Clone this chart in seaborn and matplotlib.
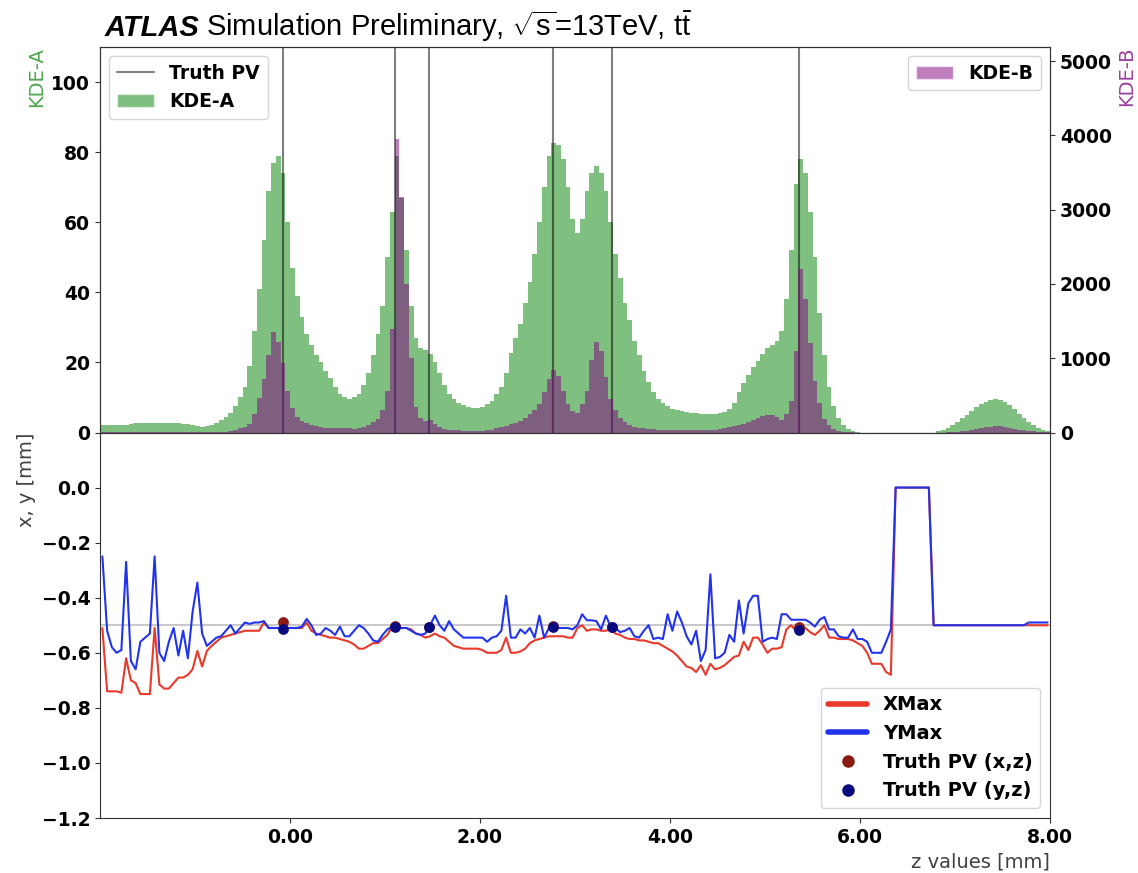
import numpy as np
import seaborn as sns
import matplotlib.pyplot as plt
from matplotlib.lines import Line2D
from matplotlib.patches import Patch

# z binning: 200 bins of 0.05 mm from -2 to 8
z_lo, z_hi, z_step = -2.0, 8.0, 0.05
z_mid = np.arange(z_lo + z_step / 2, z_hi, z_step)

# KDE-A (left axis)
kde_a = [
    2.0, 2.0, 2.0, 2.0, 2.0, 2.2, 2.5, 2.7, 2.7, 2.8,
    2.8, 2.8, 2.7, 2.7, 2.7, 2.6, 2.6, 2.5, 2.3, 2.0,
    1.8, 1.7, 1.8, 2.2, 2.8, 3.5, 4.4, 5.5, 7.5, 10.0,
    13.0, 19.0, 29.0, 41.0, 55.0, 69.0, 77.0, 79.0, 74.0, 60.0,
    47.0, 39.0, 33.0, 28.0, 25.0, 22.0, 20.0, 17.5, 15.5, 13.0,
    11.0, 10.0, 9.7, 10.0, 11.0, 13.5, 17.0, 22.0, 28.0, 36.0,
    50.0, 63.0, 79.0, 67.0, 52.0, 36.0, 27.0, 24.0, 23.5, 22.5,
    20.0, 17.0, 13.5, 11.0, 9.5, 8.5, 7.8, 7.3, 7.0, 7.0,
    7.3, 8.0, 9.0, 11.0, 13.0, 17.0, 22.6, 27.0, 31.0, 37.0,
    43.0, 51.0, 60.0, 70.0, 79.0, 82.5, 82.0, 78.0, 70.0, 61.0,
    57.0, 61.0, 69.0, 74.0, 76.0, 74.0, 69.0, 60.0, 51.0, 44.0,
    37.0, 32.0, 26.0, 22.0, 17.5, 14.5, 11.5, 9.5, 8.3, 7.5,
    6.8, 6.4, 6.1, 5.8, 5.6, 5.5, 5.4, 5.4, 5.4, 5.4,
    5.5, 5.9, 6.8, 8.5, 11.5, 14.0, 16.5, 18.6, 20.5, 22.5,
    24.0, 25.0, 26.0, 29.0, 38.0, 52.0, 71.0, 78.0, 74.0, 63.0,
    50.0, 34.0, 22.0, 13.0, 7.5, 4.0, 2.2, 1.1, 0.5, 0.2,
    0.0, 0.0, 0.0, 0.0, 0.0, 0.0, 0.0, 0.0, 0.0, 0.0,
    0.0, 0.0, 0.0, 0.0, 0.0, 0.0, 0.3, 0.7, 1.3, 2.1,
    3.0, 4.0, 5.0, 6.2, 7.2, 8.0, 8.8, 9.4, 9.7, 9.4,
    8.8, 7.8, 6.6, 5.4, 4.2, 3.1, 2.2, 1.4, 0.8, 0.3,
]

# KDE-B (right axis)
kde_b = [
    8, 8, 8, 8, 8, 8, 8, 8, 8, 8,
    8, 8, 8, 8, 8, 8, 8, 8, 8, 8,
    8, 8, 8, 8, 9, 10, 12, 20, 35, 55,
    70, 120, 250, 470, 720, 1050, 1350, 1220, 930, 560,
    330, 210, 160, 125, 100, 85, 70, 60, 55, 55,
    55, 55, 55, 50, 55, 70, 100, 140, 180, 300,
    560, 1400, 3950, 3170, 2000, 1000, 350, 190, 160, 165,
    110, 70, 50, 40, 32, 28, 25, 25, 25, 25,
    25, 30, 40, 55, 70, 90, 110, 130, 160, 200,
    250, 300, 380, 550, 720, 840, 760, 560, 380, 290,
    260, 380, 560, 970, 1220, 1100, 750, 450, 300, 190,
    140, 100, 80, 65, 55, 48, 42, 37, 33, 30,
    28, 27, 27, 27, 27, 28, 30, 32, 35, 40,
    48, 58, 70, 82, 95, 115, 140, 170, 200, 220,
    230, 230, 210, 170, 250, 420, 1100, 2200, 1800, 1200,
    700, 400, 180, 100, 50, 25, 12, 6, 3, 0,
    0, 0, 0, 0, 0, 0, 0, 0, 0, 0,
    0, 0, 0, 0, 0, 0, 0, 0, 3, 6,
    10, 16, 24, 34, 46, 58, 70, 80, 85, 82,
    75, 64, 52, 40, 30, 21, 14, 8, 4, 2,
]

# XMax / YMax per z bin
x_max = [
    -0.51, -0.74, -0.74, -0.74, -0.745, -0.62, -0.70, -0.71, -0.75, -0.75,
    -0.75, -0.51, -0.715, -0.73, -0.73, -0.71, -0.69, -0.69, -0.68, -0.66,
    -0.593, -0.65, -0.593, -0.575, -0.56, -0.545, -0.54, -0.535, -0.53, -0.525,
    -0.52, -0.52, -0.52, -0.52, -0.49, -0.51, -0.51, -0.51, -0.51, -0.51,
    -0.51, -0.51, -0.51, -0.49, -0.52, -0.53, -0.535, -0.54, -0.545, -0.545,
    -0.55, -0.555, -0.56, -0.57, -0.585, -0.585, -0.575, -0.565, -0.565, -0.55,
    -0.535, -0.505, -0.505, -0.51, -0.51, -0.515, -0.53, -0.535, -0.545, -0.54,
    -0.53, -0.54, -0.545, -0.56, -0.575, -0.58, -0.585, -0.585, -0.585, -0.585,
    -0.59, -0.60, -0.60, -0.60, -0.59, -0.545, -0.60, -0.60, -0.595, -0.585,
    -0.565, -0.555, -0.55, -0.545, -0.54, -0.54, -0.54, -0.54, -0.545, -0.545,
    -0.51, -0.50, -0.52, -0.515, -0.515, -0.52, -0.52, -0.515, -0.53, -0.535,
    -0.545, -0.55, -0.55, -0.555, -0.555, -0.56, -0.565, -0.565, -0.575, -0.585,
    -0.595, -0.61, -0.63, -0.65, -0.655, -0.67, -0.645, -0.68, -0.64, -0.66,
    -0.655, -0.645, -0.63, -0.615, -0.61, -0.56, -0.59, -0.545, -0.545, -0.57,
    -0.60, -0.585, -0.585, -0.58, -0.515, -0.50, -0.52, -0.505, -0.51, -0.525,
    -0.535, -0.52, -0.50, -0.545, -0.545, -0.55, -0.55, -0.55, -0.555, -0.565,
    -0.575, -0.60, -0.64, -0.64, -0.64, -0.67, -0.68, 0.0, 0.0, 0.0,
    0.0, 0.0, 0.0, 0.0, 0.0, -0.5, -0.5, -0.5, -0.5, -0.5,
    -0.5, -0.5, -0.5, -0.5, -0.5, -0.5, -0.5, -0.5, -0.5, -0.5,
    -0.5, -0.5, -0.5, -0.5, -0.5, -0.5, -0.5, -0.5, -0.5, -0.5,
]

y_max = [
    -0.25, -0.52, -0.58, -0.60, -0.59, -0.27, -0.63, -0.66, -0.56, -0.545,
    -0.53, -0.25, -0.60, -0.63, -0.56, -0.51, -0.61, -0.52, -0.62, -0.45,
    -0.345, -0.53, -0.575, -0.56, -0.545, -0.54, -0.52, -0.50, -0.53, -0.51,
    -0.49, -0.495, -0.49, -0.49, -0.485, -0.51, -0.51, -0.51, -0.51, -0.51,
    -0.51, -0.51, -0.505, -0.477, -0.50, -0.535, -0.53, -0.51, -0.52, -0.535,
    -0.505, -0.54, -0.54, -0.52, -0.50, -0.51, -0.53, -0.555, -0.56, -0.535,
    -0.515, -0.505, -0.51, -0.51, -0.51, -0.52, -0.53, -0.535, -0.53, -0.50,
    -0.465, -0.50, -0.52, -0.485, -0.515, -0.53, -0.545, -0.545, -0.545, -0.545,
    -0.545, -0.56, -0.545, -0.54, -0.52, -0.393, -0.545, -0.545, -0.515, -0.53,
    -0.51, -0.545, -0.465, -0.545, -0.51, -0.51, -0.51, -0.51, -0.51, -0.515,
    -0.50, -0.46, -0.482, -0.482, -0.485, -0.515, -0.465, -0.505, -0.51, -0.525,
    -0.52, -0.51, -0.54, -0.545, -0.52, -0.50, -0.55, -0.545, -0.55, -0.46,
    -0.52, -0.45, -0.49, -0.54, -0.57, -0.52, -0.63, -0.59, -0.315, -0.62,
    -0.615, -0.60, -0.535, -0.56, -0.41, -0.53, -0.42, -0.393, -0.393, -0.56,
    -0.55, -0.545, -0.55, -0.46, -0.46, -0.48, -0.48, -0.48, -0.48, -0.49,
    -0.505, -0.48, -0.47, -0.515, -0.515, -0.54, -0.545, -0.545, -0.515, -0.55,
    -0.55, -0.56, -0.60, -0.60, -0.60, -0.56, -0.515, 0.0, 0.0, 0.0,
    0.0, 0.0, 0.0, 0.0, 0.0, -0.5, -0.5, -0.5, -0.5, -0.5,
    -0.5, -0.5, -0.5, -0.5, -0.5, -0.5, -0.5, -0.5, -0.5, -0.5,
    -0.5, -0.5, -0.5, -0.5, -0.5, -0.49, -0.49, -0.49, -0.49, -0.49,
]

# truth primary vertices
pv_z = [-0.07, 1.105, 1.46, 2.77, 3.39, 5.36]
pv_x = [-0.488, -0.503, -0.505, -0.503, -0.505, -0.505]
pv_y = [-0.513, -0.505, -0.508, -0.505, -0.508, -0.516]

x_ticks = [0, 2, 4, 6, 8]
a_ticks = [0, 20, 40, 60, 80, 100]
b_ticks = [0, 1000, 2000, 3000, 4000, 5000]
xy_ticks = [-1.2, -1.0, -0.8, -0.6, -0.4, -0.2, 0.0]

RED = "#e8392b"
BLUE = "#2233ee"

sns.set_style("ticks", {"axes.edgecolor": "0.2", "text.color": "black",
                        "xtick.color": "0.2", "ytick.color": "0.2"})
plt.rcParams["font.family"] = ["DejaVu Sans"]
plt.rcParams["mathtext.fontset"] = "custom"
plt.rcParams["mathtext.rm"] = "Liberation Sans"
plt.rcParams["mathtext.it"] = "Liberation Sans:italic"
plt.rcParams["mathtext.bf"] = "Liberation Sans:bold"

fig = plt.figure(figsize=(11.38, 8.73), dpi=100)
gs = fig.add_gridspec(2, 1, left=100 / 1138, right=1050 / 1138,
                      top=1 - 47 / 873, bottom=1 - 818 / 873, hspace=0)
ax = fig.add_subplot(gs[0])
ax3 = fig.add_subplot(gs[1], sharex=ax)
ax2 = ax.twinx()

# top panel: the two KDEs
sns.histplot(x=z_mid, weights=kde_a, binwidth=z_step, binrange=(z_lo, z_hi),
             element="step", fill=True, color="green", alpha=0.5, linewidth=0, ax=ax)
sns.histplot(x=z_mid, weights=kde_b, binwidth=z_step, binrange=(z_lo, z_hi),
             element="step", fill=True, color="purple", alpha=0.5, linewidth=0, ax=ax2)
for z in pv_z:
    ax.axvline(z, color="black", alpha=0.5, lw=1.5)

ax.set_xlim(z_lo, z_hi)
ax.set_ylim(0, 110)
ax2.set_ylim(0, 5190)
ax.tick_params(axis="x", bottom=False, labelbottom=False)
ax.set_yticks(a_ticks, labels=[str(t) for t in a_ticks], fontweight="bold", fontsize=13.5,
              color="black")
ax2.set_yticks(b_ticks, labels=[str(t) for t in b_ticks], fontweight="bold", fontsize=13.5,
               color="black")
ax.set_xlabel("")
ax.set_ylabel("KDE-A", color="#4ea64e", fontsize=14, loc="top")
ax2.set_ylabel("KDE-B", color="#9b3fa0", fontsize=14, loc="top")

leg_font = {"weight": "bold", "size": 13.5}
ax.legend(handles=[Line2D([], [], color="black", alpha=0.5, lw=1.5, label="Truth PV"),
                   Patch(facecolor="green", alpha=0.5, label="KDE-A")],
          loc="upper left", prop=leg_font)
ax2.legend(handles=[Patch(facecolor="purple", alpha=0.5, label="KDE-B")],
           loc="upper right", prop=leg_font)

# bottom panel: x / y of the maxima
ax3.axhline(-0.5, color="#c4c4c4", lw=1.3, zorder=1)
sns.lineplot(x=z_mid, y=x_max, color=RED, lw=1.5, ax=ax3, zorder=2)
sns.lineplot(x=z_mid, y=y_max, color=BLUE, lw=1.5, ax=ax3, zorder=2)
sns.scatterplot(x=pv_z, y=pv_x, color="#8b1a10", s=60, linewidth=0, ax=ax3, zorder=4)
sns.scatterplot(x=pv_z, y=pv_y, color="#0a0a80", s=60, linewidth=0, ax=ax3, zorder=5)

ax3.set_ylim(-1.2, 0.2)
ax3.set_xticks(x_ticks, labels=[f"{t:.2f}" for t in x_ticks], fontweight="bold", fontsize=13.5,
               color="black")
ax3.set_yticks(xy_ticks, labels=[f"{t:.1f}".replace("-", "\u2212") for t in xy_ticks],
               fontweight="bold", fontsize=13.5, color="black")
ax3.set_xlim(z_lo, z_hi)
ax3.set_ylabel("x, y [mm]", fontsize=14, loc="top", color="0.25")
ax3.set_xlabel("z values [mm]", fontsize=14, loc="right", color="0.25")

ax3.legend(handles=[Line2D([], [], color=RED, lw=4, label="XMax"),
                    Line2D([], [], color=BLUE, lw=4, label="YMax"),
                    Line2D([], [], color="#8b1a10", marker="o", ls="", ms=8, label="Truth PV (x,z)"),
                    Line2D([], [], color="#0a0a80", marker="o", ls="", ms=8, label="Truth PV (y,z)")],
           loc="lower right", prop={"weight": "bold", "size": 14})

# title: bold italic ATLAS + the rest
y_title = 1 - 36 / 873
t1 = fig.text(105 / 1138, y_title, "ATLAS", fontsize=21, fontweight="bold",
              fontstyle="italic", family="Liberation Sans", va="baseline")
fig.canvas.draw()
x_end = t1.get_window_extent().x1 / fig.bbox.width
fig.text(x_end + 6 / 1138, y_title,
         r"Simulation Preliminary, $\sqrt{\mathrm{s}}$=13TeV, $\mathrm{t\bar{t}}$",
         fontsize=21, family="Liberation Sans", va="baseline")

fig.savefig("out.png", dpi=100)
